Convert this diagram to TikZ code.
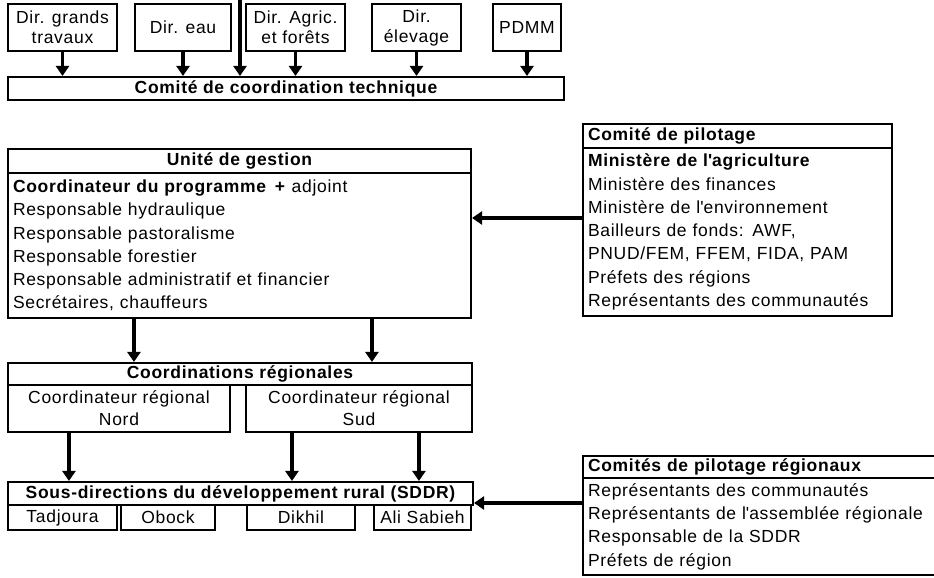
\documentclass[tikz,border=0pt]{standalone}
\usepackage{fontspec}
\setmainfont{Liberation Sans}[LetterSpace=4]
\usetikzlibrary{arrows.meta}

\begin{document}
\fontsize{17.5}{23.3}\selectfont
\begin{tikzpicture}[x=1pt, y=-1pt, >={Stealth[length=10pt, width=13pt, inset=0pt]}]
            \tikzset{
                box/.style={draw, line width=2.1pt, inner sep=0pt, align=center},
                head/.style={box, font=\bfseries},
                dir/.style={box, minimum height=47pt, font=\fontsize{17.5}{20}\selectfont},
                list/.style={box, align=left, inner xsep=5pt},
                link/.style={->, line width=3.5pt}
            };
            \useasboundingbox (0, 0) rectangle (934, 578);
            % directions techniques
            \node[dir, minimum width=109pt] (grands) at (62.5, 27.5) {Dir. grands\\travaux};
            \node[dir, minimum width=96pt] (eau) at (183, 27.5) {Dir. eau};
            \node[dir, minimum width=99pt] (agric) at (295.5, 27.5) {Dir. Agric.\\et forêts};
            \node[dir, minimum width=89pt] (elevage) at (416.5, 27.5) {Dir.\\élevage};
            \node[dir, minimum width=68pt] (pdmm) at (527, 27.5) {PDMM};
            \node[head, minimum width=556pt, minimum height=23pt] (tech) at (286, 88.5) {Comité de coordination technique};
            \coordinate (haut) at (240, 0);
            \foreach \d in {grands, eau, agric, elevage, pdmm}
                \draw[link] (\d.south) -- (\d.south |- tech.north);
            \draw[link] (haut) -- (haut |- tech.north);
            % unite de gestion
            \node[head, minimum width=463pt, minimum height=24pt] (ugh) at (239.5, 161) {Unité de gestion};
            \node[list, text width=453pt, minimum height=145pt] (ugb) at (239.5, 245.5) {%
                \textbf{Coordinateur du programme \,+} adjoint\\
                Responsable hydraulique\\
                Responsable pastoralisme\\
                Responsable forestier\\
                Responsable administratif et financier\\
                Secrétaires, chauffeurs};
            % comite de pilotage
            \node[head, list, text width=299pt, minimum height=24pt] (pilh) at (737.5, 136) {Comité de pilotage};
            \node[list, text width=299pt, minimum height=168pt] (pilb) at (737.5, 232) {%
                \textbf{Ministère de l\textquotesingle agriculture}\\
                Ministère des finances\\
                Ministère de l\textquotesingle environnement\\
                Bailleurs de fonds: AWF,\\
                PNUD/FEM, FFEM, FIDA, PAM\\
                Préfets des régions\\
                Représentants des communautés};
            \coordinate (pil-in) at ([yshift=14pt]pilb.west);
            \draw[link] (pil-in) -- (pil-in -| ugb.east);
            % coordinations regionales
            \node[head, minimum width=464pt, minimum height=22pt] (coh) at (240, 374) {Coordinations régionales};
            \node[box, minimum width=222pt, minimum height=47pt, font=\fontsize{17.5}{22}\selectfont] (nord) at (119, 408.5) {Coordinateur régional\\Nord};
            \node[box, minimum width=226pt, minimum height=47pt, font=\fontsize{17.5}{22}\selectfont] (sud) at (359, 408.5) {Coordinateur régional\\Sud};
            \draw[link] ([xshift=127pt]ugb.south west) -- ([xshift=127pt]coh.north west);
            \draw[link] ([xshift=365pt]ugb.south west) -- ([xshift=365pt]coh.north west);
            % SDDR
            \node[head, minimum width=465pt, minimum height=23pt] (sdh) at (240.5, 493.5) {Sous-directions du développement rural (SDDR)};
            \node[box, minimum width=109pt, minimum height=25pt] (tadjoura) at (62.5, 517.5) {Tadjoura};
            \node[box, minimum width=94pt, minimum height=25pt] (obock) at (168, 517.5) {Obock};
            \node[box, minimum width=108pt, minimum height=25pt] (dikhil) at (301, 517.5) {Dikhil};
            \node[box, minimum width=97pt, minimum height=25pt] (ali) at (422.5, 517.5) {Ali Sabieh};
            \draw[link] ([xshift=62pt]nord.south west) -- ([xshift=62pt]nord.south west |- sdh.north);
            \draw[link] ([xshift=47pt]sud.south west) -- ([xshift=47pt]sud.south west |- sdh.north);
            \draw[link] ([xshift=174pt]sud.south west) -- ([xshift=174pt]sud.south west |- sdh.north);
            % comites regionaux
            \node[head, list, text width=352pt, minimum height=22pt] (regh) at (764, 467) {Comités de pilotage régionaux};
            \node[list, text width=352pt, minimum height=97pt] (regb) at (764, 526.5) {%
                Représentants des communautés\\
                Représentants de l\textquotesingle assemblée régionale\\
                Responsable de la SDDR\\
                Préfets de région};
            \coordinate (reg-in) at ([yshift=23.5pt]regb.west);
            \draw[link] (reg-in) -- (reg-in -| sdh.east);
        \end{tikzpicture}
\end{document}
